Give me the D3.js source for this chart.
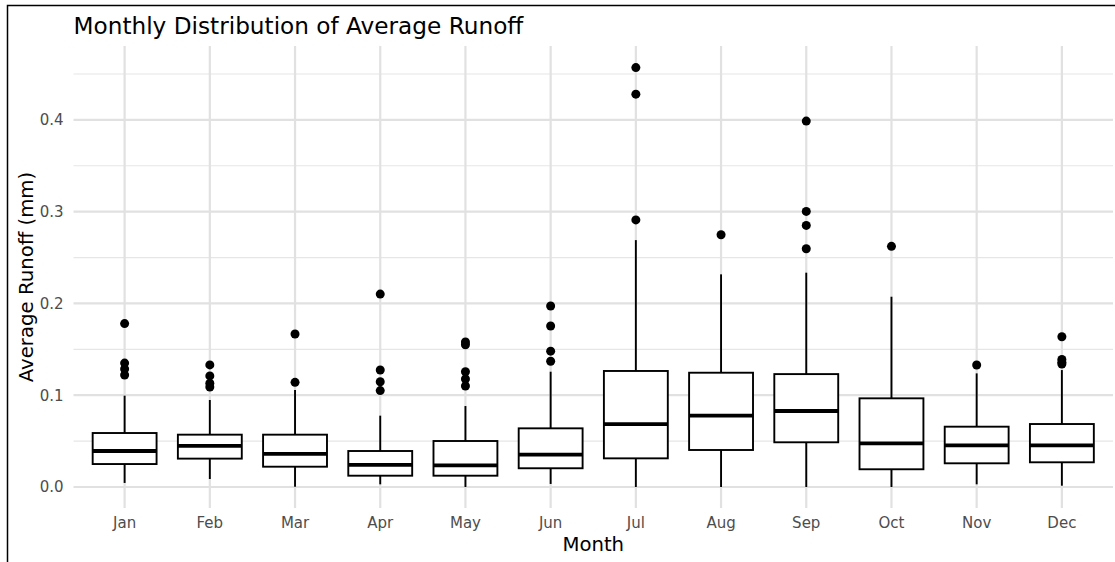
<!DOCTYPE html>
<html>
<head>
<meta charset="utf-8">
<script src="https://cdn.jsdelivr.net/npm/d3@7"></script>
<style>
  html, body { margin: 0; padding: 0; background: #fff; }
  svg { display: block; font-family: "DejaVu Sans", sans-serif; }
</style>
</head>
<body>
<svg id="chart" width="1115" height="562"></svg>
<script>
const months = ["Jan","Feb","Mar","Apr","May","Jun","Jul","Aug","Sep","Oct","Nov","Dec"];
const whiskerLow  = [0.0044, 0.0087, 0.0003, 0.0029, 0.0000, 0.0033, 0.0000, 0.0000, 0.0000, 0.0000, 0.0029, 0.0014];
const q1          = [0.0250, 0.0309, 0.0221, 0.0123, 0.0123, 0.0204, 0.0312, 0.0403, 0.0487, 0.0193, 0.0258, 0.0269];
const medians     = [0.0392, 0.0447, 0.0360, 0.0240, 0.0236, 0.0352, 0.0686, 0.0777, 0.0828, 0.0476, 0.0454, 0.0454];
const q3          = [0.0588, 0.0570, 0.0570, 0.0392, 0.0501, 0.0639, 0.1264, 0.1245, 0.1230, 0.0966, 0.0657, 0.0686];
const whiskerHigh = [0.0995, 0.0948, 0.1057, 0.0777, 0.0882, 0.1256, 0.2690, 0.2317, 0.2335, 0.2073, 0.1238, 0.1274];
const outliers = [
  [0.178, 0.135, 0.1285, 0.122],
  [0.133, 0.121, 0.113, 0.109],
  [0.1667, 0.114],
  [0.2102, 0.1275, 0.1147, 0.105],
  [0.158, 0.155, 0.1256, 0.1176, 0.110],
  [0.1972, 0.1754, 0.148, 0.137],
  [0.457, 0.428, 0.291],
  [0.2748],
  [0.3987, 0.3003, 0.285, 0.2596],
  [0.2622],
  [0.1329],
  [0.1637, 0.139, 0.136, 0.134]
];
const yMajorTicks = [0.0, 0.1, 0.2, 0.3, 0.4];
const yMinorTicks = [0.05, 0.15, 0.25, 0.35, 0.45];

const svg = d3.select("#chart");
const panel = { left: 73.5, right: 1113, top: 46, bottom: 508 };

// outer frame
svg.append("rect")
  .attr("x", 7.5).attr("y", 5.5)
  .attr("width", 1200).attr("height", 700)
  .attr("fill", "none").attr("stroke", "#000").attr("stroke-width", 1.5);

const x = d3.scaleBand().domain(months)
  .range([panel.left, panel.right]).paddingInner(0).paddingOuter(0.1);
const y = d3.scaleLinear().domain([-0.0229, 0.4805]).range([panel.bottom, panel.top]);

const grid = svg.append("g");
grid.selectAll("line.minor").data(yMinorTicks).join("line")
  .attr("x1", panel.left).attr("x2", panel.right)
  .attr("y1", d => y(d)).attr("y2", d => y(d))
  .attr("stroke", "#E6E6E6").attr("stroke-width", 1.2);
grid.selectAll("line.major").data(yMajorTicks).join("line")
  .attr("x1", panel.left).attr("x2", panel.right)
  .attr("y1", d => y(d)).attr("y2", d => y(d))
  .attr("stroke", "#E1E1E1").attr("stroke-width", 2.2);
grid.selectAll("line.vmajor").data(months).join("line")
  .attr("x1", d => x(d) + x.bandwidth() / 2).attr("x2", d => x(d) + x.bandwidth() / 2)
  .attr("y1", panel.top).attr("y2", panel.bottom)
  .attr("stroke", "#E1E1E1").attr("stroke-width", 2.2);

// axes (no domain / ticks, theme_minimal look)
const yAxis = svg.append("g")
  .attr("transform", `translate(${panel.left},0)`)
  .call(d3.axisLeft(y).tickValues(yMajorTicks).tickFormat(d3.format(".1f")).tickSize(0).tickPadding(10));
yAxis.select(".domain").remove();
yAxis.selectAll("text").attr("fill", "#4D4D4D").style("font-size", "15px")
  .style("font-family", "DejaVu Sans");

const xAxis = svg.append("g")
  .attr("transform", `translate(0,${panel.bottom})`)
  .call(d3.axisBottom(x).tickSize(0).tickPadding(9));
xAxis.select(".domain").remove();
xAxis.selectAll("text").attr("fill", "#4D4D4D").style("font-size", "15px")
  .style("font-family", "DejaVu Sans");

// boxes
const bw = x.bandwidth() * 0.75;
const boxes = svg.append("g").selectAll("g").data(months).join("g")
  .attr("transform", d => `translate(${x(d) + x.bandwidth() / 2},0)`);

boxes.append("line")
  .attr("x1", 0).attr("x2", 0)
  .attr("y1", (d, i) => y(q3[i])).attr("y2", (d, i) => y(whiskerHigh[i]))
  .attr("stroke", "#000").attr("stroke-width", 1.9);
boxes.append("line")
  .attr("x1", 0).attr("x2", 0)
  .attr("y1", (d, i) => y(q1[i])).attr("y2", (d, i) => y(whiskerLow[i]))
  .attr("stroke", "#000").attr("stroke-width", 1.9);
boxes.append("rect")
  .attr("x", -bw / 2).attr("width", bw)
  .attr("y", (d, i) => y(q3[i])).attr("height", (d, i) => y(q1[i]) - y(q3[i]))
  .attr("fill", "#fff").attr("stroke", "#000").attr("stroke-width", 1.9);
boxes.append("line")
  .attr("x1", -bw / 2).attr("x2", bw / 2)
  .attr("y1", (d, i) => y(medians[i])).attr("y2", (d, i) => y(medians[i]))
  .attr("stroke", "#000").attr("stroke-width", 3.8);
boxes.each(function (d, i) {
  d3.select(this).selectAll("circle").data(outliers[i]).join("circle")
    .attr("cx", 0).attr("cy", v => y(v)).attr("r", 4.5).attr("fill", "#000");
});

// titles
svg.append("text").attr("x", panel.left).attr("y", 34)
  .attr("fill", "#000").style("font-size", "23.2px")
  .text("Monthly Distribution of Average Runoff");
svg.append("text")
  .attr("x", (panel.left + panel.right) / 2).attr("y", 551)
  .attr("text-anchor", "middle").attr("fill", "#000").style("font-size", "19.7px")
  .text("Month");
svg.append("text")
  .attr("transform", `translate(33,${(panel.top + panel.bottom) / 2}) rotate(-90)`)
  .attr("text-anchor", "middle").attr("fill", "#000").style("font-size", "19.7px")
  .text("Average Runoff (mm)");
</script>
</body>
</html>
